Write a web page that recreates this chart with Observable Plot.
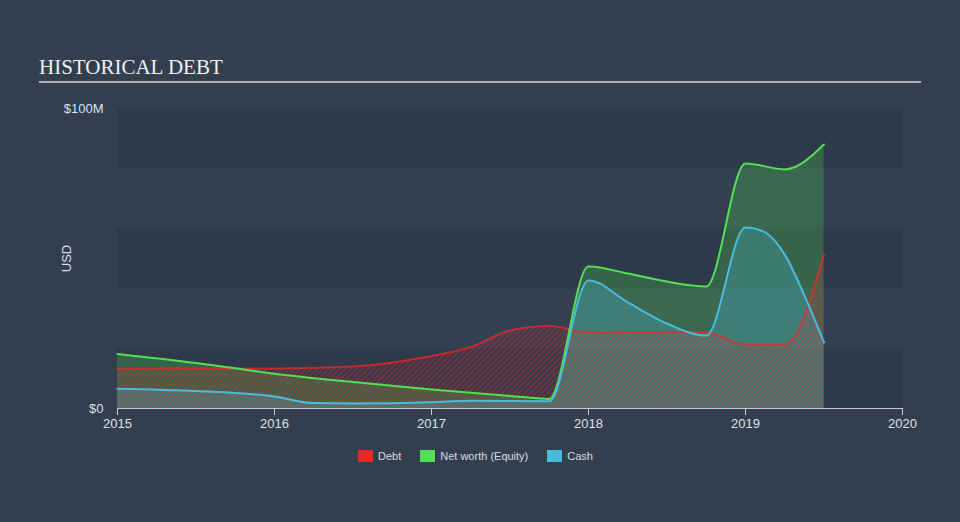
<!DOCTYPE html>
<html><head><meta charset="utf-8">
<script src="https://cdn.jsdelivr.net/npm/d3@7"></script>
<script src="https://cdn.jsdelivr.net/npm/@observablehq/plot@0.6"></script>
<style>
html,body{margin:0;padding:0;}
body{background:#333f4e;width:960px;height:522px;overflow:hidden;position:relative;font-family:"Liberation Sans",Arial,sans-serif;}
#title{position:absolute;left:39px;top:56px;font-family:"Liberation Serif","Times New Roman",serif;font-size:21px;line-height:22px;color:#eef0f2;white-space:nowrap;}
#rule{position:absolute;left:39px;top:81px;width:882px;height:2px;background:#aeb3ba;}
#chart{position:absolute;left:0;top:0;}
#legend{position:absolute;left:358px;top:450px;display:flex;align-items:center;font-size:11px;color:#d8dce1;line-height:12px;}
#legend .item{display:flex;align-items:center;margin-right:19px;}
#legend .sw{width:15px;height:12px;margin-right:5px;}
</style></head>
<body>
<div id="title">HISTORICAL DEBT</div>
<div id="rule"></div>
<div id="chart"></div>
<div id="legend"></div>
<script>
// ---- data (values in $M) ----
const debtDates  = [2015, 2016, 2016.5, 2017, 2017.25, 2017.5, 2017.75, 2018, 2018.5, 2018.75, 2019, 2019.25, 2019.5];
const debt       = [13.3, 13.3, 14.0, 17.5, 20.5, 26.0, 27.5, 25.3, 25.3, 25.3, 21.3, 21.3, 51.3];
const netDates   = [2015, 2015.5, 2016, 2016.5, 2017, 2017.5, 2017.75, 2018, 2018.25, 2018.5, 2018.75, 2019, 2019.25, 2019.5];
const netWorth   = [18.2, 15.2, 11.6, 8.8, 6.3, 4.2, 3.2, 47.3, 45.0, 42.3, 40.7, 81.7, 79.7, 88.0];
const cashDates  = [2015, 2015.5, 2016, 2016.25, 2016.5, 2017, 2017.25, 2017.75, 2018, 2018.25, 2018.5, 2018.75, 2019, 2019.125, 2019.25, 2019.375, 2019.5];
const cash       = [6.6, 5.8, 4.0, 1.8, 1.7, 2.1, 2.6, 2.4, 42.7, 35.4, 28.3, 24.3, 60.3, 58.7, 51.3, 37.7, 22.0];
const xTicks     = [2015, 2016, 2017, 2018, 2019, 2020];
const yTicks     = [0, 100];
const yTickLabels = ["$0", "$100M"];
const seriesNames = ["Debt", "Net worth (Equity)", "Cash"];
const seriesColors = ["#e8282b", "#52e052", "#4bbbdc"];
const bandStarts = [0, 20, 40, 60, 80];

const toRows = (ds, vs) => ds.map((d, i) => ({date: d, value: vs[i]}));
const debtRows = toRows(debtDates, debt);
const netRows = toRows(netDates, netWorth);
const cashRows = toRows(cashDates, cash);

const svg = Plot.plot({
  width: 960, height: 430,
  marginTop: 108, marginLeft: 117, marginRight: 58, marginBottom: 22,
  style: {background: "transparent", color: "#dde1e6", fontFamily: "'Liberation Sans', Arial, sans-serif", fontSize: "13px", overflow: "visible"},
  x: {domain: [xTicks[0], xTicks[xTicks.length - 1]]},
  y: {domain: [yTicks[0], yTicks[1]]},
  marks: [
    Plot.rect(bandStarts.filter((d, i) => i % 2 === 0), {y1: d => d, y2: d => d + 20, fill: "#2e3a49"}),
    Plot.rect(bandStarts.filter((d, i) => i % 2 === 1), {y1: d => d, y2: d => d + 20, fill: "#334050"}),
    Plot.areaY(netRows, {x: "date", y: "value", curve: "monotone-x", fill: seriesColors[1], fillOpacity: 0.25}),
    Plot.areaY(cashRows, {x: "date", y: "value", curve: "monotone-x", fill: seriesColors[2], fillOpacity: 0.27}),
    Plot.areaY(debtRows, {x: "date", y: "value", curve: "monotone-x", fill: "url(#hatch)"}),
    Plot.lineY(debtRows, {x: "date", y: "value", curve: "monotone-x", stroke: seriesColors[0], strokeWidth: 2, strokeOpacity: 0.75}),
    Plot.lineY(netRows, {x: "date", y: "value", curve: "monotone-x", stroke: seriesColors[1], strokeWidth: 2}),
    Plot.lineY(cashRows, {x: "date", y: "value", curve: "monotone-x", stroke: seriesColors[2], strokeWidth: 2}),
    Plot.ruleY([0], {stroke: "#c5cad1", strokeWidth: 1.2}),
    Plot.axisX({ticks: xTicks, tickFormat: d => String(d), tickSize: 7, tickPadding: 3, stroke: "#c5cad1", label: null, fontSize: 13}),
    Plot.axisY({ticks: yTicks, tickFormat: d => yTickLabels[yTicks.indexOf(d)], tickSize: 0, tickPadding: 14, fontSize: 13,
      label: "USD", labelAnchor: "center", labelArrow: "none", labelOffset: 56})
  ]
});

// hatch pattern for the debt area
const ns = "http://www.w3.org/2000/svg";
const defs = document.createElementNS(ns, "defs");
defs.innerHTML = `<pattern id="hatch" patternUnits="userSpaceOnUse" width="4" height="4" patternTransform="rotate(45)">
  <rect width="4" height="4" fill="#e8282b" fill-opacity="0.04"></rect>
  <line x1="1" y1="0" x2="1" y2="4" stroke="#e8282b" stroke-width="1.3" stroke-opacity="0.5"></line>
</pattern>`;
svg.insertBefore(defs, svg.firstChild);
document.getElementById("chart").appendChild(svg);

// legend
const legend = document.getElementById("legend");
seriesNames.forEach((name, i) => {
  const item = document.createElement("div");
  item.className = "item";
  item.innerHTML = `<div class="sw" style="background:${seriesColors[i]}"></div><span>${name}</span>`;
  legend.appendChild(item);
});
</script>
</body></html>
